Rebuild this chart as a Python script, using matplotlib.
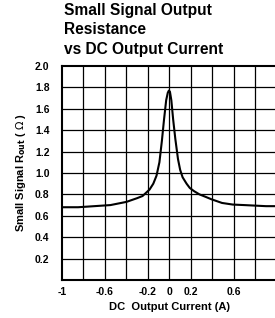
import matplotlib
matplotlib.use("Agg")
import matplotlib.pyplot as plt

plt.rcParams['font.family'] = ['Liberation Sans', 'DejaVu Sans']

# Curve
current = [-1.0, -0.85, -0.7, -0.55, -0.4, -0.3, -0.25, -0.185, -0.15, -0.12,
           -0.093, -0.07, -0.05, -0.03, -0.015, -0.005, 0.005, 0.018, 0.035,
           0.055, 0.08, 0.1, 0.123, 0.16, 0.19, 0.23, 0.28, 0.33, 0.39, 0.49,
           0.59, 0.7, 0.8, 0.9, 1.0]
r_out = [0.68, 0.68, 0.69, 0.70, 0.73, 0.765, 0.785, 0.845, 0.90, 0.975,
         1.1, 1.3, 1.5, 1.68, 1.75, 1.77, 1.76, 1.68, 1.5,
         1.32, 1.13, 1.03, 0.96, 0.9, 0.86, 0.83, 0.80, 0.78, 0.755, 0.72,
         0.705, 0.70, 0.695, 0.69, 0.69]

x_ticks = [-1, -0.6, -0.2, 0, 0.2, 0.6]
x_tick_labels = ['-1', '-0.6', '-0.2', '0', '0.2', '0.6']
y_ticks = [0.2, 0.4, 0.6, 0.8, 1.0, 1.2, 1.4, 1.6, 1.8, 2.0]
x_grid = [-0.8, -0.6, -0.4, -0.2, 0, 0.2, 0.4, 0.6, 0.8]
y_grid = [0.2, 0.4, 0.6, 0.8, 1.0, 1.2, 1.4, 1.6, 1.8]

fig = plt.figure(figsize=(2.75, 3.18), dpi=100)
ax = fig.add_axes([0.2255, 0.1195, 0.781, 0.673])

for gx in x_grid:
    ax.axvline(gx, color='black', lw=0.9, zorder=1)
for gy in y_grid:
    ax.axhline(gy, color='black', lw=0.9, zorder=1)

ax.plot(current, r_out, color='black', lw=1.5, zorder=3)

ax.set_xlim(-1, 1)
ax.set_ylim(0, 2.0)
ax.set_xticks(x_ticks)
ax.set_xticklabels(x_tick_labels)
ax.set_yticks(y_ticks)
ax.set_yticklabels([f'{v:.1f}' for v in y_ticks])
ax.tick_params(length=0, labelsize=7.5)
ax.tick_params(axis='x', pad=5)
ax.tick_params(axis='y', pad=9)
for lab in ax.get_xticklabels() + ax.get_yticklabels():
    lab.set_fontweight('bold')
for sp in ax.spines.values():
    sp.set_linewidth(1.5)

ax.set_xlabel('DC  Output Current (A)', fontsize=8, fontweight='bold', labelpad=4)
ax.set_ylabel(r'Small Signal R$_{\mathbf{out}}$ ( $\Omega$ )', fontsize=8,
              fontweight='bold', labelpad=5)

fig.text(0.232, 0.99, 'Small Signal Output\nResistance\nvs DC Output Current',
         fontsize=11.2, fontweight='bold', ha='left', va='top', linespacing=1.35)

fig.savefig('out.png', dpi=100)
